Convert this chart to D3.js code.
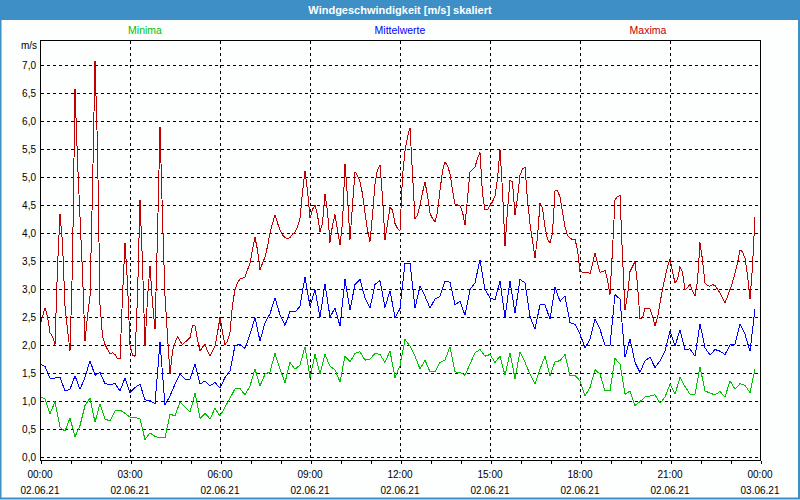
<!DOCTYPE html>
<html>
<head>
<meta charset="utf-8">
<script src="https://cdn.jsdelivr.net/npm/d3@7"></script>
<style>
  body { margin: 0; background: #fff; }
  svg { display: block; font-family: "Liberation Sans", Arial, sans-serif; }
</style>
</head>
<body>
<svg id="chart" width="800" height="500"></svg>
<script>
// ---- data ----
var title = "Windgeschwindigkeit [m/s] skaliert";
var seriesNames = ["Minima", "Mittelwerte", "Maxima"];
var unitLabel = "m/s";

var timeLabels = ["00:00", "03:00", "06:00", "09:00", "12:00", "15:00", "18:00", "21:00", "00:00"];
var dateLabels = ["02.06.21", "02.06.21", "02.06.21", "02.06.21", "02.06.21", "02.06.21", "02.06.21", "02.06.21", "03.06.21"];
var yTicks = [0, 0.5, 1, 1.5, 2, 2.5, 3, 3.5, 4, 4.5, 5, 5.5, 6, 6.5, 7];

// min and mean: one value every 10 minutes, from 00:00
var minima = [
  1.08,1.04,0.77,0.99,0.53,0.46,0.70,0.36,0.56,0.92,1.05,0.62,0.95,0.68,0.64,0.82,0.84,0.78,
  0.71,0.71,0.68,0.31,0.43,0.37,0.34,0.34,0.76,0.74,0.98,0.89,0.80,1.14,0.69,0.78,0.68,0.87,0.73,
  0.89,1.05,1.22,1.22,1.11,1.27,1.57,1.27,1.48,1.52,1.85,1.57,1.33,1.69,1.57,1.64,1.97,1.42,
  1.83,1.48,1.83,1.62,1.56,1.34,1.80,1.70,1.85,1.88,1.73,1.75,1.85,1.83,1.69,1.89,1.42,1.63,
  2.10,1.98,1.80,1.57,1.73,1.52,1.52,1.69,1.73,1.97,1.52,1.51,1.46,1.66,1.86,1.92,1.80,1.83,
  1.69,1.80,1.46,1.86,1.40,1.88,1.69,1.48,1.30,1.57,1.80,1.45,1.70,1.72,1.83,1.45,1.46,1.36,
  1.09,1.24,1.56,1.48,1.18,1.18,1.76,1.66,1.12,1.18,0.92,0.99,1.07,1.09,1.11,0.96,1.07,1.30,
  1.12,1.42,1.26,1.12,1.12,1.61,1.18,1.14,1.11,1.17,1.07,1.36,1.21,1.31,1.28,1.15,1.57
];
var mittelwerte = [
  1.66,1.62,1.41,1.41,1.42,1.18,1.21,1.45,1.21,1.42,1.72,1.46,1.51,1.31,1.29,1.31,1.18,1.41,
  1.15,1.24,1.30,1.02,1.01,0.95,2.05,0.93,1.09,1.30,1.48,1.39,1.39,1.66,1.30,1.36,1.27,1.33,1.23,
  1.42,1.54,1.99,2.01,1.94,2.19,2.49,2.07,2.40,2.56,2.84,2.54,2.35,2.60,2.59,2.69,3.22,2.69,
  2.99,2.50,3.09,2.50,2.66,2.34,3.17,2.63,3.08,3.17,2.84,2.66,3.08,3.15,2.67,2.97,2.49,2.65,
  3.46,3.46,2.66,3.05,2.87,2.66,2.82,2.87,3.14,3.12,2.72,2.78,2.53,2.99,3.11,3.52,2.99,2.84,
  2.81,3.14,2.50,3.14,2.57,3.17,3.11,2.51,2.28,2.72,2.72,2.46,3.03,2.78,2.87,2.40,2.37,2.20,
  1.95,2.10,2.47,2.28,2.00,2.00,2.90,2.82,1.78,2.11,1.69,1.51,1.72,1.78,1.60,1.72,1.89,2.25,
  1.98,2.27,1.92,1.93,1.80,2.38,1.95,1.82,1.92,1.89,1.83,2.00,2.01,2.38,2.19,1.89,2.64
];
// max: one value every 5 minutes, from 00:00
var maxima = [
  2.34,2.51,2.66,2.51,2.22,2.15,2.01,3.40,4.34,3.82,2.69,2.28,1.89,3.46,6.57,5.30,4.29,3.28,
  2.07,2.51,2.87,4.76,7.08,5.53,2.72,2.16,2.01,1.92,1.85,1.86,1.83,1.76,1.75,2.87,3.82,3.11,
  2.00,1.82,1.80,2.87,4.59,3.46,1.98,2.84,3.41,2.75,2.28,3.96,5.90,4.29,2.87,2.16,1.48,1.89,
  2.04,2.15,2.07,2.01,2.05,2.09,2.13,2.35,2.34,2.10,1.89,1.96,2.01,1.89,1.80,1.89,1.98,2.22,2.49,
  2.23,2.01,2.07,2.22,2.72,2.99,3.11,3.18,3.19,3.21,3.34,3.46,3.70,3.92,3.70,3.34,3.46,3.57,
  3.76,4.00,4.17,4.32,4.18,4.05,3.96,3.92,3.90,3.92,3.98,4.02,4.11,4.26,4.73,5.11,4.76,4.26,
  4.42,4.50,4.32,4.02,4.18,4.70,4.38,3.83,4.14,4.33,4.05,3.79,4.18,5.24,4.64,3.88,4.50,5.09,
  5.03,4.91,4.70,4.36,4.05,3.85,4.32,4.88,5.13,5.21,4.64,3.88,4.17,4.46,4.41,4.17,4.08,4.04,
  5.01,5.47,5.71,5.88,5.06,4.26,4.32,4.50,4.72,4.91,4.67,4.35,4.26,4.20,4.38,4.76,5.11,5.27,
  5.20,5.06,4.76,4.52,4.50,4.48,4.38,4.14,4.62,5.09,5.13,5.18,5.33,5.44,4.70,4.41,4.42,4.49,
  4.56,4.66,4.97,5.49,4.76,3.76,4.41,4.94,4.91,4.32,4.64,5.03,5.14,5.18,4.59,4.17,3.86,3.55,
  3.93,4.53,4.44,4.11,3.89,3.82,4.00,4.75,4.76,4.64,4.38,4.11,3.96,3.91,3.88,3.89,3.70,3.31,
  3.30,3.30,3.30,3.27,3.45,3.64,3.46,3.30,3.31,3.33,3.17,2.90,3.70,4.59,4.65,4.67,3.58,2.63,
  2.88,3.31,3.40,3.49,3.08,2.46,2.49,2.66,2.66,2.65,2.51,2.34,2.49,2.75,2.99,3.20,3.40,3.53,
  3.31,3.11,3.17,3.40,3.30,2.99,3.02,3.09,2.96,2.87,3.14,3.83,3.52,3.11,3.06,3.05,3.08,3.06,
  3.00,2.93,2.84,2.75,2.87,2.99,3.12,3.28,3.46,3.70,3.66,3.55,3.24,2.82,3.40,4.29
];

// ---- chart ----
var width = 800, height = 500;
var blue = "#3d8fc6";
var svg = d3.select("#chart");

var t0 = new Date(2021, 5, 2, 0, 0);
var t1 = new Date(2021, 5, 3, 0, 0);

var x = d3.scaleTime().domain([t0, t1]).range([40, 760]);
var y = d3.scaleLinear().domain([0, 7]).range([457, 65]);

var comma = d3.formatLocale({decimal: ",", thousands: ".", grouping: [3], currency: ["", "€"]}).format(".1f");

svg.append("rect").attr("width", width).attr("height", height).attr("fill", "#fdfefe");

// title bar + frame
svg.append("rect").attr("x", 0).attr("y", 0).attr("width", width).attr("height", 20).attr("fill", blue);
svg.append("rect").attr("x", 0.5).attr("y", 0.5).attr("width", width - 1.5).attr("height", height - 2)
  .attr("fill", "none").attr("stroke", blue).attr("stroke-width", 2);
svg.append("text").attr("x", width / 2).attr("y", 14).attr("text-anchor", "middle")
  .attr("fill", "#fff").attr("font-weight", "bold").attr("font-size", 11).text(title);

// legend
var colors = ["#00c000", "#0000ff", "#c00000"];
var legendX = [145, 400, 648];
seriesNames.forEach(function(n, i) {
  svg.append("text").attr("x", legendX[i]).attr("y", 34).attr("text-anchor", "middle")
    .attr("font-size", 10.5).attr("fill", colors[i]).text(n);
});

// grid
var grid = svg.append("g").attr("stroke", "#000").attr("stroke-dasharray", "3,3")
  .attr("shape-rendering", "crispEdges");
yTicks.forEach(function(v) {
  var yy = Math.round(y(v)) + 0.5;
  grid.append("line").attr("x1", 41).attr("x2", 760).attr("y1", yy).attr("y2", yy);
});
var majorTicks = d3.timeHour.every(3).range(t0, d3.timeMinute.offset(t1, 1));
majorTicks.slice(1, -1).forEach(function(d) {
  var xx = Math.round(x(d)) + 0.5;
  grid.append("line").attr("x1", xx).attr("x2", xx).attr("y1", 41).attr("y2", 460);
});

// y labels
svg.append("g").selectAll("text").data(yTicks).join("text")
  .attr("x", 36).attr("y", function(d) { return y(d) + 4; })
  .attr("text-anchor", "end").attr("font-size", 10).attr("fill", "#000")
  .text(function(d) { return comma(d); });
svg.append("text").attr("x", 37).attr("y", 49).attr("text-anchor", "end")
  .attr("font-size", 10).text(unitLabel);

// x axis: hourly ticks, labels every 3 h
var xAxis = d3.axisBottom(x).ticks(d3.timeHour.every(1)).tickSize(3).tickSizeOuter(0).tickFormat("");
var gx = svg.append("g").attr("transform", "translate(0.5,460.5)").call(xAxis)
  .attr("shape-rendering", "crispEdges");
gx.select(".domain").remove();
majorTicks.forEach(function(d, i) {
  svg.append("text").attr("x", x(d)).attr("y", 478).attr("text-anchor", "middle")
    .attr("font-size", 10).text(timeLabels[i]);
  svg.append("text").attr("x", x(d)).attr("y", 494).attr("text-anchor", "middle")
    .attr("font-size", 10).text(dateLabels[i]);
});

// series
function line(stepMin) {
  return d3.line()
    .x(function(d, i) { return x(d3.timeMinute.offset(t0, i * stepMin)); })
    .y(function(d) { return y(d); });
}
var series = [[minima, 10], [mittelwerte, 10], [maxima, 5]];
series.forEach(function(s, i) {
  svg.append("path").attr("d", line(s[1])(s[0]))
    .attr("fill", "none").attr("stroke", colors[i]).attr("stroke-width", 1)
    .attr("shape-rendering", "crispEdges");
});

// plot frame
svg.append("rect").attr("x", 40.5).attr("y", 40.5).attr("width", 720).attr("height", 420)
  .attr("fill", "none").attr("stroke", "#000").attr("shape-rendering", "crispEdges");
</script>
</body>
</html>
